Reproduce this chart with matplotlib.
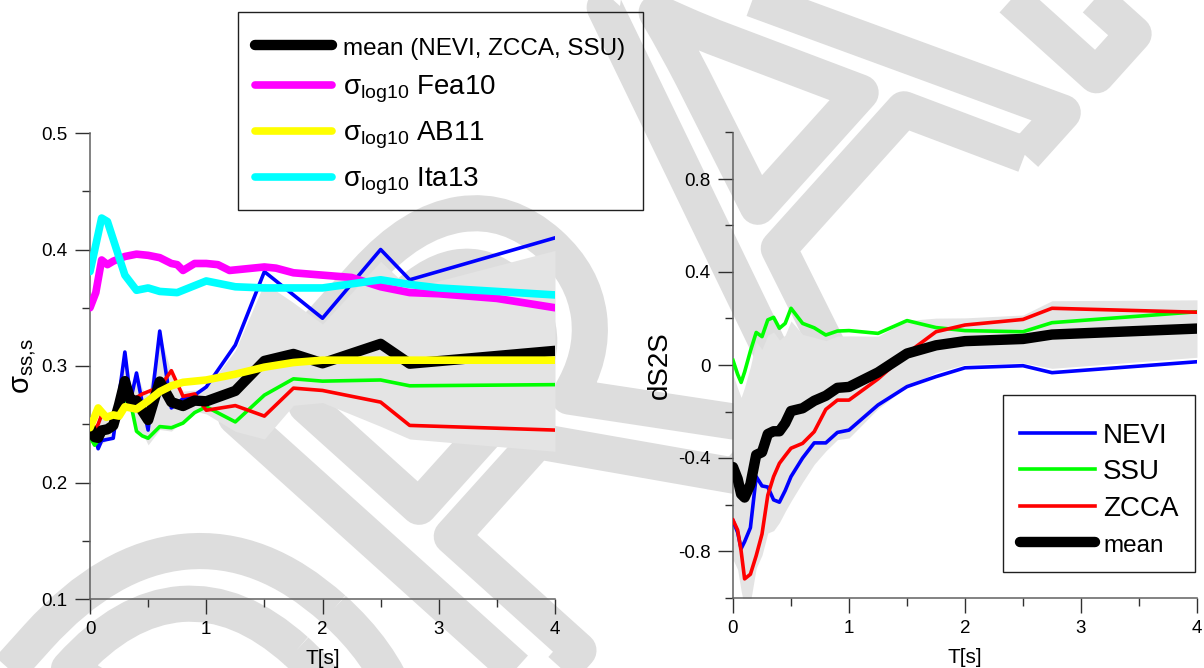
import numpy as np
import matplotlib
matplotlib.use("Agg")
import matplotlib.pyplot as plt
import matplotlib.patheffects as pe
from matplotlib.patches import Rectangle
from matplotlib.ticker import MultipleLocator, FuncFormatter

plt.rcParams['font.family'] = ['Liberation Sans', 'DejaVu Sans']
plt.rcParams['mathtext.fontset'] = 'custom'
plt.rcParams['mathtext.rm'] = 'Liberation Sans'
plt.rcParams['mathtext.it'] = 'Liberation Sans'
plt.rcParams['axes.unicode_minus'] = False

# periods (s) shared by the three stations
T = [0, 0.04, 0.07, 0.1, 0.15, 0.2, 0.25, 0.3, 0.35, 0.4, 0.45, 0.5, 0.6,
     0.7, 0.8, 0.9, 1.0, 1.25, 1.5, 1.75, 2.0, 2.5, 2.75, 4.0]

# single-station sigma (left panel)
nevi_ss = [0.255, 0.240, 0.229, 0.236, 0.237, 0.238, 0.275, 0.312, 0.271, 0.294, 0.268, 0.245,
           0.330, 0.264, 0.272, 0.275, 0.282, 0.318, 0.381, 0.361, 0.341, 0.400, 0.374, 0.410]
ssu_ss = [0.239, 0.232, 0.236, 0.240, 0.245, 0.251, 0.260, 0.271, 0.268, 0.244, 0.240, 0.238,
          0.248, 0.247, 0.251, 0.260, 0.265, 0.252, 0.275, 0.289, 0.287, 0.288, 0.283, 0.284]
zcca_ss = [0.250, 0.245, 0.250, 0.258, 0.255, 0.258, 0.265, 0.278, 0.272, 0.273, 0.276, 0.278,
           0.282, 0.296, 0.274, 0.276, 0.262, 0.266, 0.257, 0.281, 0.279, 0.269, 0.249, 0.245]

# site terms dS2S (right panel)
nevi_d = [-0.67, -0.72, -0.79, -0.76, -0.70, -0.48, -0.52, -0.525, -0.58, -0.59, -0.54, -0.48,
          -0.40, -0.335, -0.335, -0.29, -0.28, -0.172, -0.093, -0.05, -0.012, -0.003, -0.033, 0.014]
ssu_d = [0.02, -0.04, -0.075, -0.03, 0.06, 0.14, 0.122, 0.194, 0.205, 0.158, 0.179, 0.244,
         0.179, 0.16, 0.129, 0.146, 0.148, 0.136, 0.191, 0.161, 0.148, 0.143, 0.182, 0.229]
zcca_d = [-0.667, -0.71, -0.80, -0.92, -0.90, -0.82, -0.727, -0.56, -0.48, -0.423, -0.39, -0.358,
          -0.337, -0.287, -0.191, -0.151, -0.151, -0.06, 0.05, 0.143, 0.172, 0.196, 0.244, 0.227]

# GMPE sigmas
fea_T = [0, 0.05, 0.1, 0.15, 0.2, 0.3, 0.4, 0.5, 0.6, 0.7, 0.75, 0.8, 0.9, 1.0, 1.1, 1.2, 1.3,
         1.5, 1.6, 1.75, 2.0, 2.25, 2.5, 2.75, 3.0, 3.5, 4.0]
fea_s = [0.350, 0.363, 0.391, 0.387, 0.390, 0.394, 0.396, 0.395, 0.393, 0.388, 0.387, 0.382,
         0.388, 0.388, 0.387, 0.382, 0.383, 0.385, 0.384, 0.380, 0.378, 0.376, 0.368, 0.363,
         0.362, 0.358, 0.350]
ab_T = [0, 0.07, 0.14, 0.2, 0.25, 0.3, 0.4, 0.5, 0.6, 0.7, 0.8, 1.0, 1.25, 1.5, 1.75, 2.0, 3.0, 4.0]
ab_s = [0.247, 0.264, 0.256, 0.258, 0.257, 0.265, 0.263, 0.270, 0.278, 0.283, 0.286, 0.288,
        0.293, 0.299, 0.303, 0.305, 0.305, 0.305]
ita_T = [0, 0.1, 0.15, 0.3, 0.4, 0.5, 0.6, 0.75, 0.8, 1.0, 1.25, 1.5, 2.0, 2.5, 2.75, 3.0, 4.0]
ita_s = [0.381, 0.427, 0.424, 0.378, 0.365, 0.367, 0.364, 0.363, 0.365, 0.373, 0.368, 0.367,
         0.367, 0.374, 0.370, 0.367, 0.361]

T = np.array(T)
ss_all = np.vstack([nevi_ss, ssu_ss, zcca_ss])
d_all = np.vstack([nevi_d, ssu_d, zcca_d])
ss_mean, ss_sd = ss_all.mean(axis=0), ss_all.std(axis=0, ddof=1)
d_mean, d_sd = d_all.mean(axis=0), d_all.std(axis=0, ddof=1)

W, H = 1204, 668
fig = plt.figure(figsize=(W / 100, H / 100), dpi=100)

# DRAFT stamp behind everything (outlined letters)
fig.text(0.1826, -0.57, "DRAFT", fontsize=430, rotation=48, rotation_mode='anchor',
         ha='left', va='baseline', color='none', zorder=-10,
         path_effects=[pe.withStroke(linewidth=26, foreground='#dddddd')])

ax1 = fig.add_axes([90/W, 69/H, 465/W, 466/H])
ax2 = fig.add_axes([733/W, 70.5/H, 464/W, 465/H])

thin = 2.6
for ax in (ax1, ax2):
    ax.set_facecolor('none')
    ax.set_xlim(0, 4)
    for s in ('top', 'right'):
        ax.spines[s].set_visible(False)
    for s in ('left', 'bottom'):
        ax.spines[s].set_color('#606060')
        ax.spines[s].set_linewidth(1.1)
    ax.xaxis.set_major_locator(MultipleLocator(1))
    ax.xaxis.set_minor_locator(MultipleLocator(0.5))
    ax.tick_params(which='major', length=11, width=1.0, color='#303030', labelsize=13.5, pad=5)
    ax.tick_params(which='minor', length=5.5, width=1.0, color='#303030')
    ax.set_xlabel('T[s]', fontsize=15, labelpad=8)
    ax.xaxis.set_major_formatter(FuncFormatter(lambda v, p: f'{v:g}'))
    ax.yaxis.set_major_formatter(FuncFormatter(lambda v, p: f'{v:g}'))

# left panel: sigma_ss,s
ax1.fill_between(T, ss_mean - ss_sd, ss_mean + ss_sd, color='#e4e4e4', lw=0, zorder=1)
ax1.plot(T, nevi_ss, color='#0000ff', lw=thin, zorder=3)
ax1.plot(T, ssu_ss, color='#00ff00', lw=thin, zorder=3)
ax1.plot(T, zcca_ss, color='#ff0000', lw=thin, zorder=3)
l_mean, = ax1.plot(T, ss_mean, color='black', lw=7.5, solid_capstyle='round',
                   solid_joinstyle='round', zorder=4)
l_fea, = ax1.plot(fea_T, fea_s, color='#ff00ff', lw=5.5, solid_capstyle='round',
                  solid_joinstyle='round', zorder=5)
l_ab, = ax1.plot(ab_T, ab_s, color='#ffff00', lw=5.5, solid_capstyle='round',
                 solid_joinstyle='round', zorder=6)
l_ita, = ax1.plot(ita_T, ita_s, color='#00ffff', lw=5.5, solid_capstyle='round',
                  solid_joinstyle='round', zorder=6)
ax1.set_ylim(0.1, 0.5)
ax1.yaxis.set_major_locator(MultipleLocator(0.1))
ax1.yaxis.set_minor_locator(MultipleLocator(0.05))
ax1.set_ylabel(r'$\mathrm{σ}_{\mathrm{ss{,}s}}$', fontsize=21, labelpad=2)

# legend boxes drawn separately so the rows can sit where they should
fig.add_artist(Rectangle((238/W, 1 - 210/H), 405/W, 198/H, transform=fig.transFigure,
                         fill=False, ec='#202020', lw=1.0, zorder=2))
leg1 = fig.legend([l_mean, l_fea, l_ab, l_ita],
                  ['mean (NEVI, ZCCA, SSU)',
                   r'$\mathrm{σ}_{\mathrm{log10}}$ Fea10',
                   r'$\mathrm{σ}_{\mathrm{log10}}$ AB11',
                   r'$\mathrm{σ}_{\mathrm{log10}}$ Ita13'],
                  loc='upper left', bbox_to_anchor=(238/W, 1 - 18/H),
                  borderaxespad=0, fontsize=20, handlelength=2.75, handletextpad=0.4,
                  labelspacing=0.52, borderpad=0.62, frameon=False)
leg1.get_texts()[0].set_fontsize(17.5)

# right panel: dS2S
ax2.fill_between(T, d_mean - d_sd, d_mean + d_sd, color='#e4e4e4', lw=0, zorder=1)
r_nevi, = ax2.plot(T, nevi_d, color='#0000ff', lw=thin, zorder=3)
r_ssu, = ax2.plot(T, ssu_d, color='#00ff00', lw=thin, zorder=3)
r_zcca, = ax2.plot(T, zcca_d, color='#ff0000', lw=thin, zorder=3)
r_mean, = ax2.plot(T, d_mean, color='black', lw=7.5, solid_capstyle='round',
                   solid_joinstyle='round', zorder=4)
ax2.set_ylim(-1.0, 1.0)
ax2.yaxis.set_major_locator(MultipleLocator(0.4))
ax2.yaxis.set_minor_locator(MultipleLocator(0.2))
ax2.set_ylabel('dS2S', fontsize=20, labelpad=4)

fig.add_artist(Rectangle((1003/W, 1 - 572/H), 192/W, 177/H, transform=fig.transFigure,
                         fc='white', ec='#202020', lw=1.0, zorder=2))
leg2 = fig.legend([r_nevi, r_ssu, r_zcca, r_mean], ['NEVI', 'SSU', 'ZCCA', 'mean'],
                  loc='upper left', bbox_to_anchor=(996/W, 1 - 399/H),
                  borderaxespad=0, fontsize=20, handlelength=2.7, handletextpad=0.3,
                  labelspacing=0.38, borderpad=0.85, frameon=False)
leg2.get_texts()[3].set_fontsize(17.5)

fig.savefig('out.png', dpi=100)
